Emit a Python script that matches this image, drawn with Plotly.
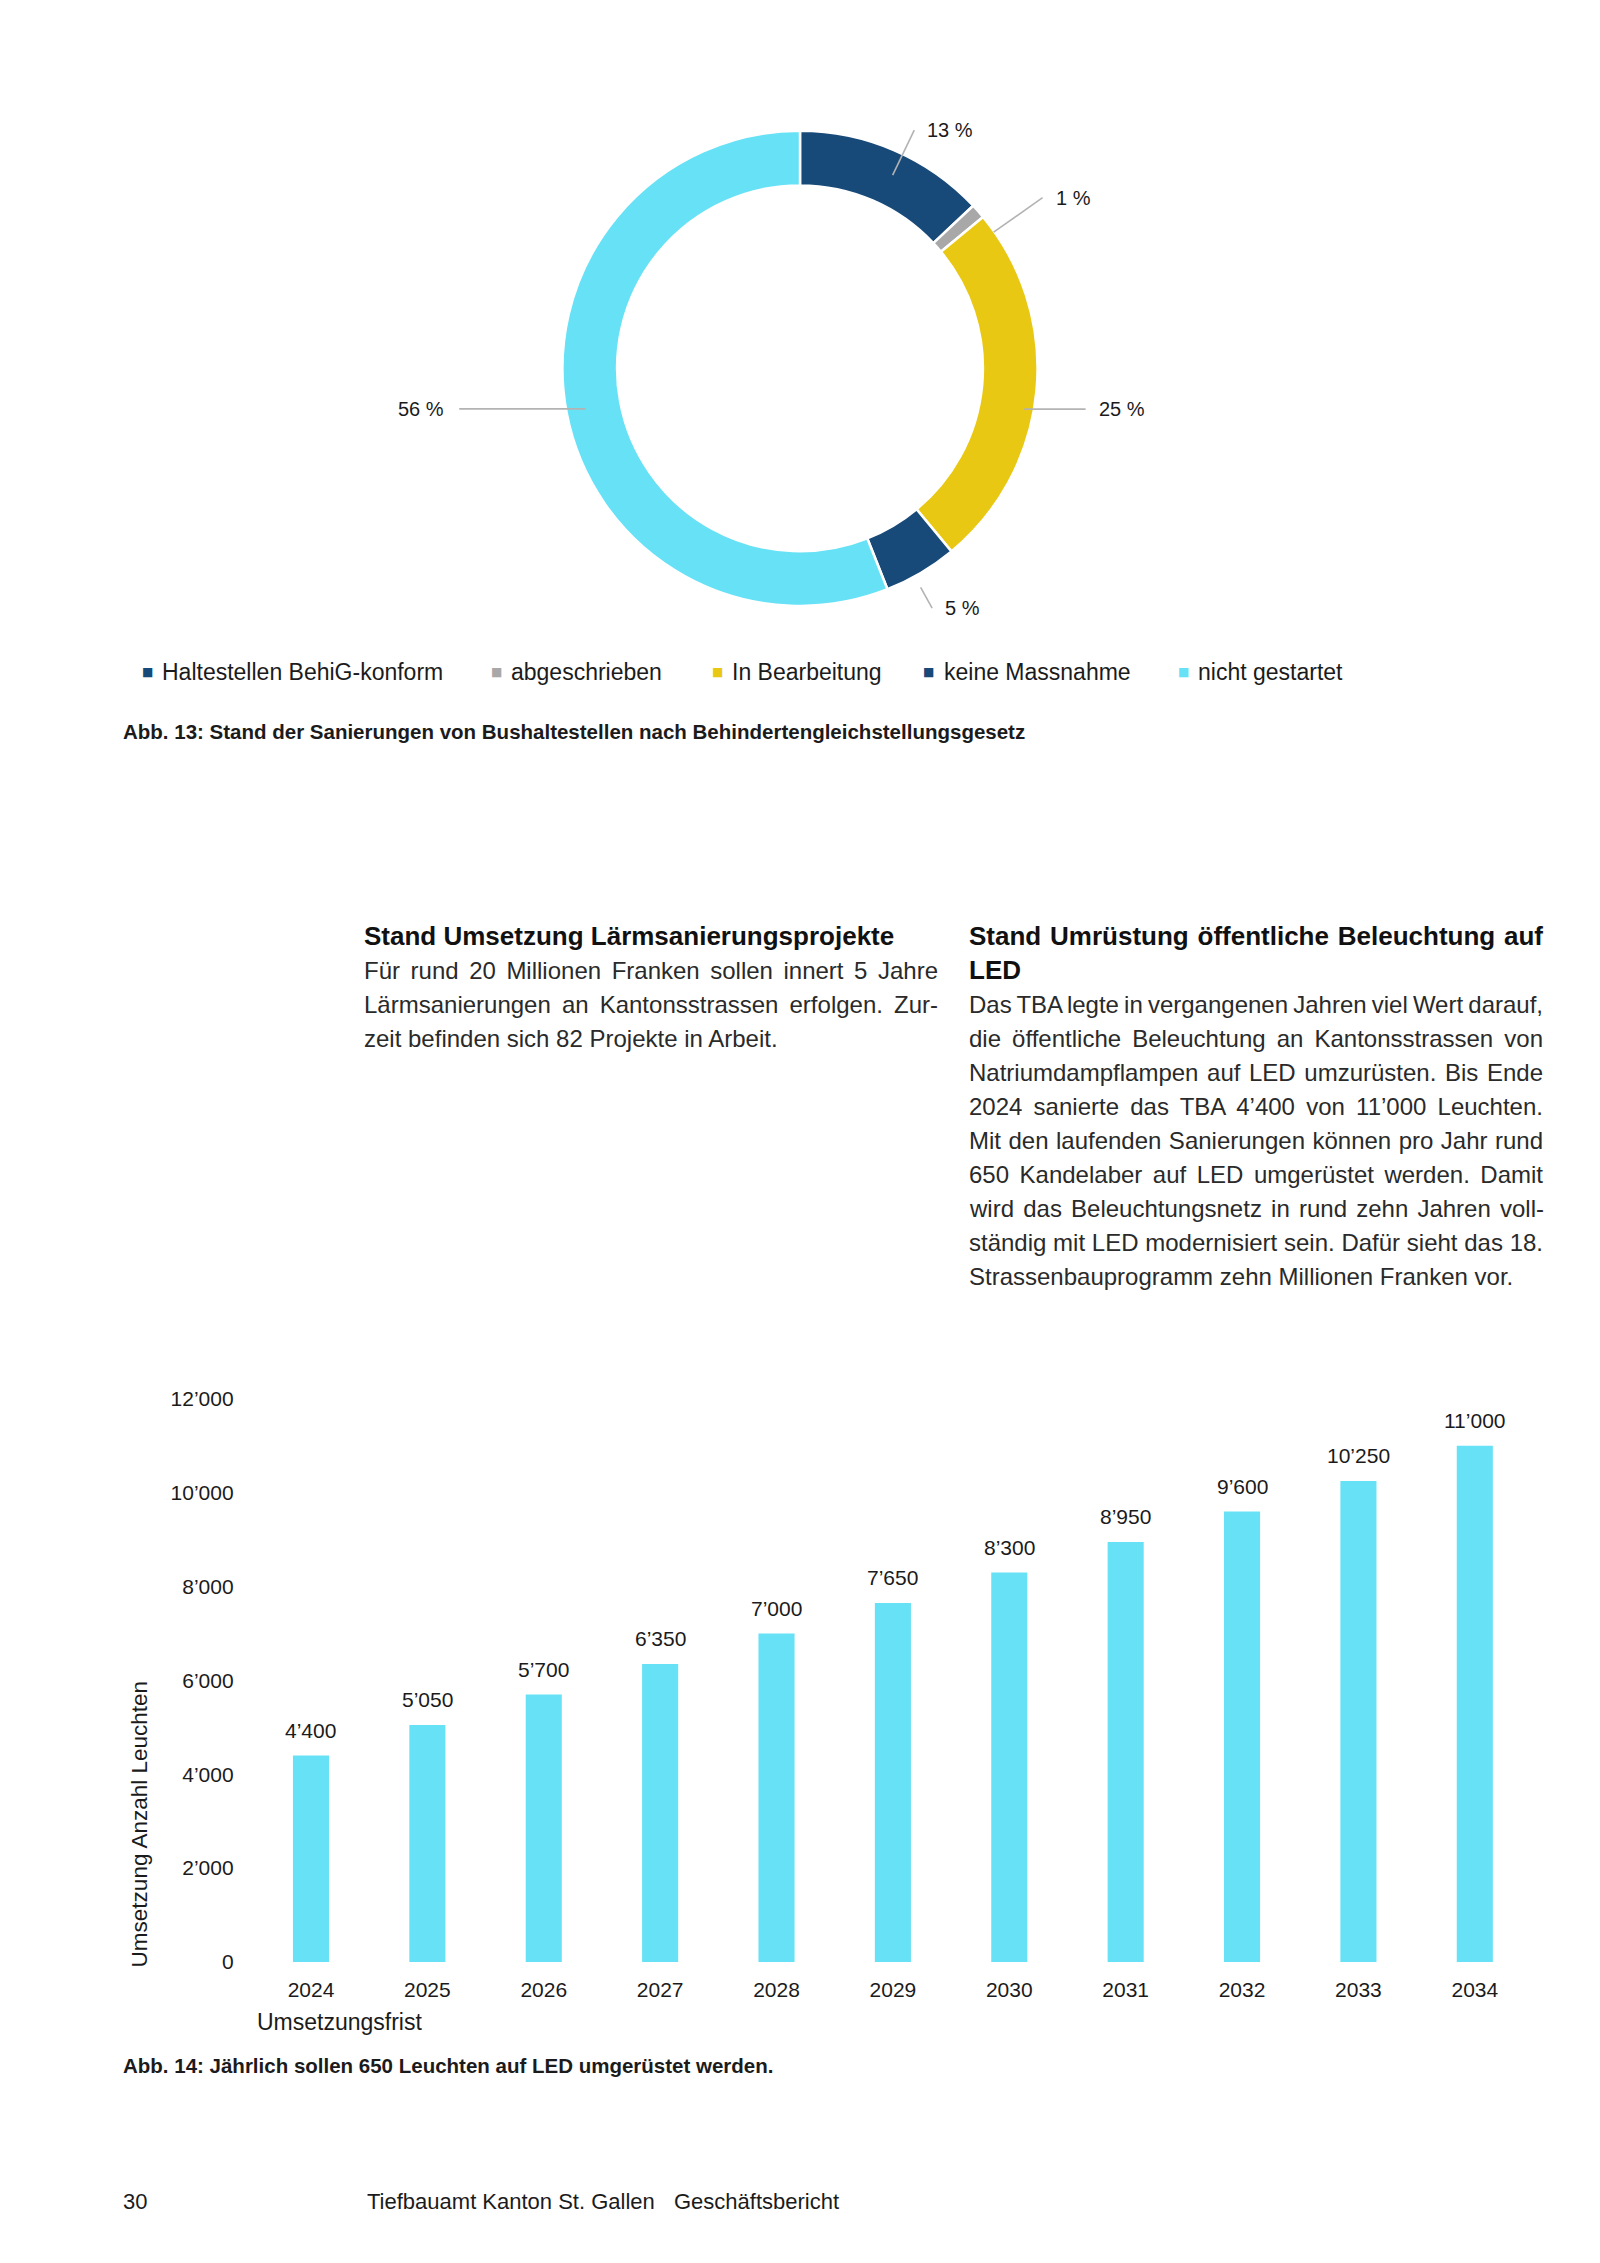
import math
import json
import plotly.graph_objects as go

# ---------------- data ----------------
pie_labels = ["Haltestellen BehiG-konform", "abgeschrieben", "In Bearbeitung",
              "keine Massnahme", "nicht gestartet"]
pie_values = [13, 1, 25, 5, 56]
pie_colors = ["#174a79", "#a8a8a8", "#e9c813", "#174a79", "#66e1f6"]

years = ["2024", "2025", "2026", "2027", "2028", "2029", "2030", "2031", "2032", "2033", "2034"]
leuchten = [4400, 5050, 5700, 6350, 7000, 7650, 8300, 8950, 9600, 10250, 11000]
y_ticks = [0, 2000, 4000, 6000, 8000, 10000, 12000]

left_heading = ["Stand Umsetzung Lärmsanierungsprojekte"]
left_body = ["Für rund 20 Millionen Franken sollen innert 5 Jahre",
             "Lärmsanierungen an Kantonsstrassen erfolgen. Zur-",
             "zeit befinden sich 82 Projekte in Arbeit."]
right_heading = ["Stand Umrüstung öffentliche Beleuchtung auf", "LED"]
right_body = ["Das TBA legte in vergangenen Jahren viel Wert darauf,",
              "die öffentliche Beleuchtung an Kantonsstrassen von",
              "Natriumdampflampen auf LED umzurüsten. Bis Ende",
              "2024 sanierte das TBA 4’400 von 11’000 Leuchten.",
              "Mit den laufenden Sanierungen können pro Jahr rund",
              "650 Kandelaber auf LED umgerüstet werden. Damit",
              "wird das Beleuchtungsnetz in rund zehn Jahren voll-",
              "ständig mit LED modernisiert sein. Dafür sieht das 18.",
              "Strassenbauprogramm zehn Millionen Franken vor."]
caption13 = "Abb. 13: Stand der Sanierungen von Bushaltestellen nach Behindertengleichstellungsgesetz"
caption14 = "Abb. 14: Jährlich sollen 650 Leuchten auf LED umgerüstet werden."
footer = ["30", "Tiefbauamt Kanton St. Gallen", "Geschäftsbericht"]

# ---------------- layout constants ----------------
W, H = 1600, 2263
FONT = "Liberation Sans, Arial, sans-serif"
INK = "#1b1b1b"
COL_W = 574  # text column width (justified)


def px(x):
    return x / W


def py(y):
    return 1 - y / H


def fmt(v):
    return f"{v:,}".replace(",", "’")


fig = go.Figure()

# ---------------- donut ----------------
cx, cy, R = 800, 360, 240
fig.add_trace(go.Pie(
    labels=pie_labels, values=pie_values, sort=False, direction="clockwise",
    rotation=0, hole=0.77, textinfo="none", showlegend=False,
    marker=dict(colors=pie_colors, line=dict(color="white", width=2.5)),
    domain=dict(x=[px(cx - R), px(cx + R)], y=[py(cy + R), py(cy - R)]),
    hoverinfo="label+percent",
))

annotations = []
shapes = []

# leader lines + percentage labels (computed from the slice angles)
leader_shift = [2, 6, 5, 2, 0]          # degrees
leader_start = [0.90, 0.99, 0.95, 1.05, 0.91]
leader_end = [1.11, 1.24, 1.19, 1.15, 1.42]
leader_flat = [False, False, True, False, True]
total = sum(pie_values)
cum = 0
for i, v in enumerate(pie_values):
    theta = math.radians(360 * (cum + v / 2) / total + leader_shift[i])
    cum += v
    s, c = math.sin(theta), math.cos(theta)
    x0, y0 = cx + leader_start[i] * R * s, cy - leader_start[i] * R * c
    if leader_flat[i]:
        x1, y1 = cx + leader_end[i] * R * (1 if s >= 0 else -1), y0
    else:
        x1, y1 = cx + leader_end[i] * R * s, cy - leader_end[i] * R * c
    shapes.append(dict(type="line", xref="paper", yref="paper",
                       x0=px(x0), y0=py(y0), x1=px(x1), y1=py(y1),
                       line=dict(color="#b3b3b3", width=1.6)))
    right = s >= 0
    annotations.append(dict(xref="paper", yref="paper",
                            x=px(x1 + (11 if right else -13)), y=py(y1),
                            xanchor="left" if right else "right", yanchor="middle",
                            text=f"{v} %", showarrow=False,
                            font=dict(family=FONT, size=20, color=INK)))

# manual legend
legend_x = [147, 496, 717, 929, 1183]
legend_y = 667
for lab, col, lx in zip(pie_labels, pie_colors, legend_x):
    annotations.append(dict(xref="paper", yref="paper", x=px(lx), y=py(legend_y),
                            xanchor="center", yanchor="middle", text="■", showarrow=False,
                            font=dict(family="DejaVu Sans", size=12, color=col)))
    annotations.append(dict(xref="paper", yref="paper", x=px(lx + 13), y=py(legend_y),
                            xanchor="left", yanchor="middle", text=lab, showarrow=False,
                            font=dict(family=FONT, size=23, color=INK)))


def text(x, y, s, size, bold=False, color=INK, anchor="left"):
    annotations.append(dict(xref="paper", yref="paper", x=px(x), y=py(y),
                            xanchor=anchor, yanchor="middle", align="left",
                            text=f"<b>{s}</b>" if bold else s, showarrow=False,
                            font=dict(family=FONT, size=size, color=color)))


text(121, 727, caption13, 20.5, bold=True)

# ---------------- text columns ----------------
LINE0, STEP = 933.5, 34.4
justify = {}
for x0, heads, body in [(362, left_heading, left_body), (967, right_heading, right_body)]:
    rows = [(l, True) for l in heads] + [(l, False) for l in body]
    for k, (l, b) in enumerate(rows):
        text(x0, LINE0 + k * STEP, l, 26 if b else 24, bold=b, color="#111" if b else "#2a2a2a")
    # every line except the last of a paragraph is justified
    for grp in (heads, body):
        for l in grp[:-1]:
            justify[l] = COL_W

# ---------------- bar chart ----------------
fig.add_trace(go.Bar(
    x=years, y=leuchten, marker=dict(color="#66e1f6", line=dict(width=0)),
    showlegend=False, xaxis="x", yaxis="y", hovertemplate="%{x}: %{y}<extra></extra>",
))
for i, v in enumerate(leuchten):
    annotations.append(dict(xref="x", yref="y", x=i, y=v, yshift=25,
                            xanchor="center", yanchor="middle", text=fmt(v), showarrow=False,
                            font=dict(family=FONT, size=21, color=INK)))

text(139, 1831, "Umsetzung Anzahl Leuchten", 22.5, anchor="center")
annotations[-1]["textangle"] = -90
text(255, 2031, "Umsetzungsfrist", 23)
text(121, 2075, caption14, 20.5, bold=True)

# footer
text(121, 2212, footer[0], 22)
text(365, 2212, footer[1], 22)
text(672, 2212, footer[2], 22)

fig.update_layout(
    width=W, height=H, autosize=False,
    margin=dict(l=0, r=0, t=0, b=0),
    paper_bgcolor="white", plot_bgcolor="white",
    font=dict(family=FONT, color=INK),
    bargap=0.69,
    xaxis=dict(domain=[px(252.8), px(1533)], type="category",
               range=[-0.5, len(years) - 0.5],
               showgrid=False, zeroline=False, showline=False,
               ticks="outside", ticklen=9, tickcolor="rgba(0,0,0,0)",
               tickfont=dict(family=FONT, size=21, color=INK)),
    yaxis=dict(domain=[py(1970), py(1401)], range=[0, 12000],
               tickvals=y_ticks, ticktext=[fmt(t) for t in y_ticks],
               showgrid=False, zeroline=False, showline=False,
               ticks="outside", ticklen=14, tickcolor="rgba(0,0,0,0)",
               tickfont=dict(family=FONT, size=21, color=INK)),
    annotations=annotations,
    shapes=shapes,
)

post = """
document.body.style.margin = '0px';
var gd = document.getElementById('{plot_id}');
var J = %s;
gd.querySelectorAll('text.annotation-text').forEach(function (el) {
  var t = el.textContent;
  if (Object.prototype.hasOwnProperty.call(J, t)) {
    var n = (t.match(/ /g) || []).length;
    var len = el.getComputedTextLength();
    if (n > 0) { el.style.wordSpacing = ((J[t] - len) / n) + 'px'; }
  }
});
""" % json.dumps(justify, ensure_ascii=False)

fig.write_html("out.html", post_script=post, config={"displayModeBar": False})
